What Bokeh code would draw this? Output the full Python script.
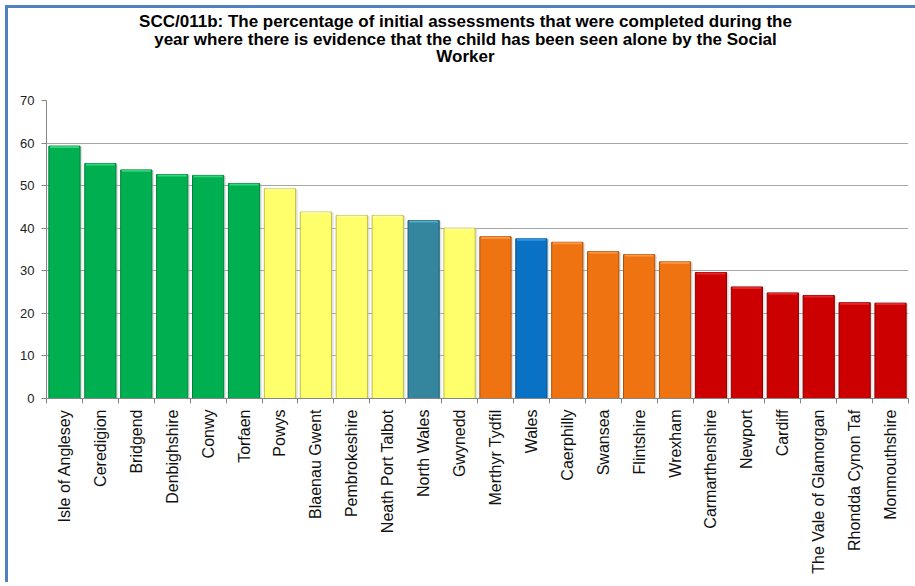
import numpy as np
from bokeh.plotting import figure
from bokeh.layouts import column
from bokeh.models import ColumnDataSource, Range1d, FixedTicker, Div
from bokeh.embed import file_html
from bokeh.resources import INLINE

# SCC/011b by local authority, sorted high to low
areas = ["Isle of Anglesey", "Ceredigion", "Bridgend", "Denbighshire", "Conwy",
         "Torfaen", "Powys", "Blaenau Gwent", "Pembrokeshire", "Neath Port Talbot",
         "North Wales", "Gwynedd", "Merthyr Tydfil", "Wales", "Caerphilly",
         "Swansea", "Flintshire", "Wrexham", "Carmarthenshire", "Newport",
         "Cardiff", "The Vale of Glamorgan", "Rhondda Cynon Taf", "Monmouthshire"]
percent = [59.3, 55.2, 53.7, 52.6, 52.4, 50.5, 49.3, 43.8, 43.0, 43.0,
           41.8, 40.0, 38.0, 37.5, 36.7, 34.5, 33.8, 32.1, 29.6, 26.2,
           24.8, 24.2, 22.5, 22.4]
band = ["green"] * 6 + ["yellow"] * 4 + ["region", "yellow"] + ["orange", "wales"] \
       + ["orange"] * 4 + ["red"] * 6

y_ticks = [0, 10, 20, 30, 40, 50, 60, 70]
title_lines = ["SCC/011b: The percentage of initial assessments that were completed during the",
               "year where there is evidence that the child has been seen alone by the Social",
               "Worker"]

fills = {"green": "#00B050", "yellow": "#FFFF6B", "region": "#33869E",
         "wales": "#0A72C4", "orange": "#EF7311", "red": "#CC0000"}
edges = {"green": "#00803C", "yellow": "#BDBD50", "region": "#245F70",
         "wales": "#07508A", "orange": "#A9520C", "red": "#8A0000"}
caps = {"green": "#3FE084", "yellow": "#FFFFA8", "region": "#5CB8D4",
        "wales": "#3AA0F0", "orange": "#FFA050", "red": "#F03030"}

n = len(areas)
xs = np.arange(n) + 0.5
vals = np.array(percent)
src = ColumnDataSource(dict(
    x=xs, top=vals, cap_bottom=vals - 0.45,
    fill=[fills[b] for b in band], edge=[edges[b] for b in band],
    cap=[caps[b] for b in band]))

# title block above the plot, centred over the whole chart area
title = Div(text="<div>" + "<br>".join(title_lines) + "</div>",
            width=905, height=72,
            styles={"text-align": "center", "font-family": "'Liberation Sans', Arial, sans-serif",
                    "font-weight": "bold", "font-size": "17px", "line-height": "17.5px",
                    "color": "black", "background-color": "white"})

p = figure(width=905, height=492, output_backend="svg", toolbar_location=None,
           x_range=Range1d(0, n), y_range=Range1d(0, 70),
           min_border_left=38, min_border_right=5, min_border_top=10,
           min_border_bottom=184)
p.outline_line_color = None
p.background_fill_color = "white"
p.border_fill_color = "white"

# soft shadow to the right of each bar
p.vbar(x=xs + 0.06, top=vals - 0.15, width=0.87, bottom=0,
       fill_color="#B0B0B0", fill_alpha=0.35, line_color=None)
p.vbar(x="x", top="top", bottom=0, width=0.87, source=src,
       fill_color="fill", line_color="edge", line_width=1)
p.vbar(x="x", top="top", bottom="cap_bottom", width=0.8, source=src,
       fill_color="cap", line_color=None, fill_alpha=0.8)

# axes
p.yaxis.ticker = FixedTicker(ticks=y_ticks)
p.yaxis.axis_line_color = "#868686"
p.yaxis.major_tick_line_color = "#868686"
p.yaxis.major_tick_in = 0
p.yaxis.major_tick_out = 5
p.yaxis.minor_tick_line_color = None
p.yaxis.major_label_text_font = "Liberation Sans"
p.yaxis.major_label_text_font_size = "13px"
p.yaxis.major_label_text_color = "#222222"
p.yaxis.major_label_standoff = 7

p.xaxis.ticker = FixedTicker(ticks=list(xs), minor_ticks=list(np.arange(n + 1)))
p.xaxis.major_label_overrides = {float(x): a for x, a in zip(xs, areas)}
p.xaxis.major_label_orientation = np.pi / 2
p.xaxis.axis_line_color = "#868686"
p.xaxis.major_tick_line_color = None
p.xaxis.major_tick_out = 0
p.xaxis.major_tick_in = 0
p.xaxis.minor_tick_line_color = "#868686"
p.xaxis.minor_tick_in = 0
p.xaxis.minor_tick_out = 5
p.xaxis.major_label_text_font = "Liberation Sans"
p.xaxis.major_label_text_font_size = "16px"
p.xaxis.major_label_text_color = "#111111"
p.xaxis.major_label_standoff = 6

p.xgrid.grid_line_color = None
p.ygrid.ticker = FixedTicker(ticks=y_ticks)
p.ygrid.grid_line_color = "#A6A6A6"
p.ygrid.grid_line_width = 1

# blue frame on the left and top edges of the chart area
layout = column(title, p, spacing=0,
                styles={"border-left": "3px solid #4F81BD", "border-top": "3px solid #4F81BD",
                        "margin-left": "5px", "margin-top": "5px"})

open("out.html", "w").write(file_html(layout, INLINE))
